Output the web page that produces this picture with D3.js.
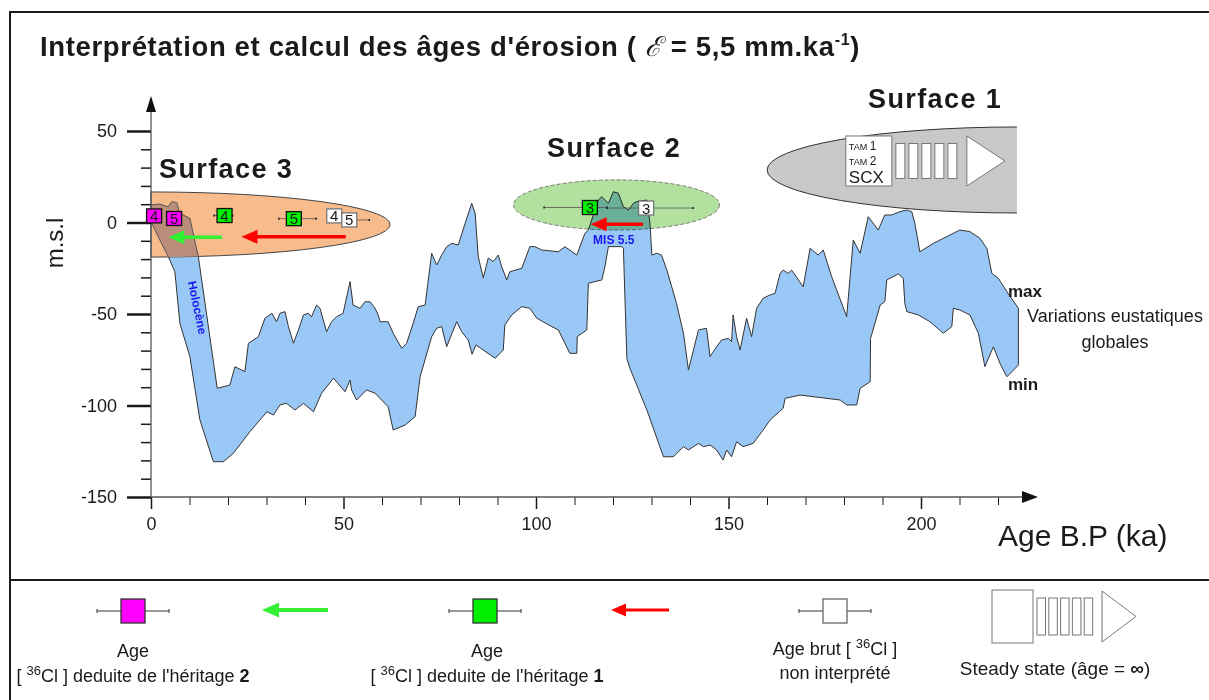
<!DOCTYPE html>
<html><head><meta charset="utf-8">
<script src="https://cdn.jsdelivr.net/npm/d3@7"></script>
<style>
body{margin:0;background:#fff;}
svg{display:block;}
text{font-family:"Liberation Sans",Arial,sans-serif;fill:#1a1a1a;}
</style></head><body>
<svg id="c" width="1209" height="700"></svg>
<script>
// ---------- data ----------
const maxCurve = [[0,9.6],[2.3,10.1],[4.4,8.6],[5.4,11.4],[6.7,10.8],[7.5,5.0],[10.1,2.3],[12.3,-18.7],[17.2,-90.6],[20.5,-88.8],[21.8,-78.8],[24.4,-81.5],[25.3,-66.0],[27.9,-62.4],[29.6,-52.3],[31.4,-49.6],[32.6,-54.2],[33.5,-49.6],[34.8,-48.7],[35.7,-56.9],[37.0,-66.0],[38.3,-58.7],[39.6,-50.5],[40.9,-49.6],[41.7,-51.5],[43.0,-45.1],[43.9,-46.9],[45.6,-59.7],[46.9,-54.2],[48.2,-51.5],[49.9,-49.6],[51.7,-32.3],[52.5,-45.1],[54.3,-46.9],[55.6,-43.3],[56.9,-43.3],[58.2,-46.9],[59.0,-50.5],[59.5,-54.2],[61.6,-54.2],[62.9,-60.5],[65.1,-68.7],[66.4,-66.0],[68.1,-55.1],[69.4,-46.0],[71.2,-45.1],[72.9,-16.8],[74.2,-23.2],[75.5,-17.8],[76.8,-13.2],[78.1,-11.4],[79.8,-12.3],[81.6,-0.4],[83.3,10.5],[84.2,5.0],[85.0,-18.7],[86.3,-30.3],[87.6,-19.4],[88.9,-21.4],[90.2,-17.8],[91.1,-24.2],[92.4,-31.4],[93.2,-26.9],[96.3,-25.0],[98.4,-13.2],[99.7,-13.2],[101.5,-15.0],[105.8,-16.0],[107.5,-13.2],[110.6,-17.8],[112.7,-5.9],[113.6,-4.1],[116.2,12.3],[117.1,14.1],[118.8,10.5],[120.1,16.8],[121.4,16.0],[122.7,8.6],[124.0,6.8],[125.3,10.5],[126.2,11.4],[128.8,12.3],[129.6,-0.4],[130.1,-17.8],[131.4,-16.8],[132.6,-17.8],[134.0,-26.0],[136.5,-44.2],[138.3,-60.5],[139.6,-80.6],[140.9,-69.7],[142.2,-58.7],[144.3,-57.8],[145.2,-73.3],[146.9,-67.9],[148.2,-64.2],[150.0,-63.3],[150.8,-65.1],[151.2,-50.5],[152.1,-62.4],[153.0,-69.7],[154.7,-52.3],[156.0,-62.4],[157.3,-46.9],[159.0,-41.4],[160.8,-39.6],[162.1,-38.7],[163.4,-27.8],[164.2,-26.0],[165.5,-27.8],[166.4,-26.0],[169.4,-35.1],[171.2,-14.1],[173.3,-17.8],[174.6,-15.0],[176.8,-29.6],[180.7,-51.5],[182.4,-9.6],[184.2,-16.8],[186.3,3.2],[188.9,-4.1],[190.6,4.1],[192.4,4.1],[194.5,5.9],[196.3,6.8],[197.6,5.9],[198.4,-0.4],[199.7,-16.0],[203.2,-11.4],[210.1,-4.1],[212.7,-5.0],[215.3,-8.6],[217.1,-14.1],[218.4,-27.8],[220.1,-30.5],[222.3,-37.8],[225.3,-46.9]];
const minCurve = [[0,0.4],[2.3,-9.6],[4.5,-18.7],[6.2,-26.9],[7.5,-55.1],[10.1,-73.3],[12.7,-107.9],[16.2,-130.7],[18.8,-130.7],[21.4,-126.1],[25.7,-114.3],[30.1,-103.4],[31.8,-105.2],[33.5,-99.7],[35.2,-98.8],[37.4,-102.5],[39.6,-98.8],[42.2,-103.4],[44.3,-93.3],[47.4,-85.1],[50.4,-92.5],[51.7,-86.1],[52.1,-91.5],[53.4,-97.0],[56.0,-91.5],[58.2,-93.3],[61.6,-100.7],[62.9,-113.4],[66.0,-110.7],[68.6,-106.1],[69.9,-84.3],[72.9,-62.4],[74.2,-57.8],[75.5,-56.9],[76.8,-67.9],[79.4,-54.2],[80.7,-59.7],[82.4,-64.2],[83.4,-72.0],[84.4,-66.9],[89.4,-74.2],[91.5,-69.7],[91.9,-56.0],[93.7,-50.5],[96.3,-46.0],[98.4,-46.9],[100.2,-52.3],[104.1,-56.9],[105.8,-58.7],[108.8,-71.5],[110.6,-71.5],[110.7,-62.4],[113.2,-58.7],[113.6,-33.2],[115.3,-32.3],[117.1,-31.4],[117.9,-24.2],[118.8,-13.2],[122.3,-13.2],[122.7,-14.1],[123.6,-74.2],[124.4,-79.7],[128.8,-102.5],[133.1,-128.0],[135.7,-128.0],[138.3,-122.5],[139.6,-124.3],[142.2,-120.7],[143.5,-122.5],[145.2,-121.6],[146.9,-124.3],[148.6,-129.8],[149.5,-124.3],[150.8,-128.0],[152.1,-119.8],[153.8,-122.5],[156.4,-120.7],[159.0,-113.4],[160.8,-107.9],[164.2,-101.5],[164.7,-96.1],[168.6,-94.3],[179.0,-97.0],[180.7,-99.7],[183.3,-99.7],[184.2,-90.6],[186.8,-87.0],[186.9,-63.3],[189.4,-45.1],[190.6,-43.3],[191.1,-31.4],[194.1,-28.1],[195.4,-30.5],[195.8,-44.2],[196.3,-48.7],[199.3,-50.5],[202.3,-54.2],[205.8,-60.5],[208.0,-56.9],[208.4,-46.9],[210.1,-47.8],[212.7,-50.5],[214.9,-60.5],[216.6,-78.8],[218.8,-67.9],[220.5,-76.9],[222.3,-84.3],[225.3,-77.9]];

const xTicks = [0,50,100,150,200];
const xMinor = [10,20,30,40,60,70,80,90,110,120,130,140,160,170,180,190,210,220];
const yTicks = [50,0,-50,-100,-150];
const yMinor = [40,30,20,10,-10,-20,-30,-40,-60,-70,-80,-90,-110,-120,-130,-140];

// age boxes: label, age (ka), level (m), kind, whisker low/high (ka)
const ageBoxLabels = ["4","5","4","5","4","5","3","3"];
const ageBoxAges   = [0.8, 6.0, 19.1, 37.1, 47.6, 51.5, 114.0, 128.6];
const ageBoxLevels = [3.6, 2.2, 3.8, 2.1, 3.6, 1.4, 8.2, 7.9];
const ageBoxKinds  = ["h2","h2","h1","h1","raw","raw","h1","raw"];
const ageBoxLo     = [null,null,16.4,33.2,null,null,102.1,118.4];
const ageBoxHi     = [null,null,21.2,42.9,null,56.7,118.4,140.8];

// heritage correction arrows: from age -> to age at level
const arrowFrom  = [18.4, 50.6, 127.8];
const arrowTo    = [4.5, 23.5, 114.2];
const arrowLevel = [-8.1, -7.8, -1.0];
const arrowKind  = ["h2","h1","h1"];

const surfaceNames = ["Surface 1","Surface 2","Surface 3"];

// ---------- setup ----------
const svg = d3.select('#c');
const x = d3.scaleLinear().domain([0,230]).range([151,1036.5]);
const y = d3.scaleLinear().domain([-150,50]).range([497,131]);
const colors = {h2:'#ff00ff', h1:'#00f000', raw:'#ffffff'};
const arrowColors = {h2:'#33f033', h1:'#ff0000'};
const pxPerKa = x(1)-x(0), pxPerM = y(0)-y(1);

// frame
svg.append('rect').attr('x',10).attr('y',12).attr('width',1220).attr('height',720)
  .attr('fill','#fff').attr('stroke','#1a1a1a').attr('stroke-width',2);
svg.append('line').attr('x1',10).attr('x2',1209).attr('y1',580).attr('y2',580)
  .attr('stroke','#1a1a1a').attr('stroke-width',2);

// title
const title = svg.append('text').attr('x',40).attr('y',56).attr('font-size',27.5).attr('font-weight','bold').attr('letter-spacing',0.65);
title.append('tspan').text("Interprétation et calcul des âges d'érosion ( ");
title.append('tspan').attr('font-family','DejaVu Serif').attr('font-style','italic').attr('font-weight','normal').text('ℰ');
title.append('tspan').text(' = 5,5 mm.ka');
title.append('tspan').attr('font-size',16).attr('dy',-11).text('-1');
title.append('tspan').attr('dy',11).text(')');

// surface 1 grey shape (half ellipse)
const s1cx = x(224.9), s1cy = y(28.7), s1rx = 64.9*pxPerKa, s1ry = 23.5*pxPerM;
svg.append('path')
  .attr('d',`M${s1cx},${s1cy-s1ry} A${s1rx},${s1ry} 0 0 0 ${s1cx},${s1cy+s1ry} Z`)
  .attr('fill','#c8c8c8').attr('stroke','none');
svg.append('path')
  .attr('d',`M${s1cx},${s1cy-s1ry} A${s1rx},${s1ry} 0 0 0 ${s1cx},${s1cy+s1ry}`)
  .attr('fill','none').attr('stroke','#333').attr('stroke-width',1);

// steady-state symbol helper
function steady(g, bx, by, bw, bh, rw, rh, rp, tw, th){
  g.append('rect').attr('x',bx).attr('y',by).attr('width',bw).attr('height',bh)
    .attr('fill','#fff').attr('stroke','#777').attr('stroke-width',1);
  const ry0 = by + (bh-rh)/2;
  for(let i=0;i<5;i++){
    g.append('rect').attr('x',bx+bw+4+i*rp).attr('y',ry0).attr('width',rw).attr('height',rh)
      .attr('fill','#fff').attr('stroke','#777').attr('stroke-width',1);
  }
  const tx = bx+bw+4+5*rp+6;
  g.append('path').attr('d',`M${tx},${by+bh/2-th/2} L${tx+tw},${by+bh/2} L${tx},${by+bh/2+th/2} Z`)
    .attr('fill','#fff').attr('stroke','#777').attr('stroke-width',1);
  return g;
}
const s1g = svg.append('g');
steady(s1g, s1cx-171, s1cy-34, 46, 50, 9, 35, 13, 38, 50);
const tam = s1g.append('text').attr('font-size',9);
tam.append('tspan').attr('x',s1cx-168).attr('y',s1cy-20).text('TAM ');
tam.append('tspan').attr('font-size',12).text('1');
tam.append('tspan').attr('x',s1cx-168).attr('y',s1cy-5).text('TAM ');
tam.append('tspan').attr('font-size',12).text('2');
tam.append('tspan').attr('x',s1cx-168).attr('y',s1cy+13).attr('font-size',17).text('SCX');

// band
const line = d3.line().x(d=>x(d[0])).y(d=>y(d[1]));
const bandD = line(maxCurve.concat(minCurve.slice().reverse())) + 'Z';
svg.append('path').attr('d',bandD).attr('fill','#99c8f7').attr('stroke','#333').attr('stroke-width',1);

// surface 3 orange half ellipse
const s3cx = x(0), s3cy = y(-1.1), s3rx = 62.1*pxPerKa, s3ry = 17.8*pxPerM;
const s3d = `M${s3cx},${s3cy-s3ry} A${s3rx},${s3ry} 0 0 1 ${s3cx},${s3cy+s3ry} Z`;
svg.append('defs').append('clipPath').attr('id','s3clip').append('path').attr('d',s3d);
svg.append('path').attr('d',s3d).attr('fill','#f8bb8c').attr('stroke','#444').attr('stroke-width',1);
svg.append('path').attr('d',bandD).attr('clip-path','url(#s3clip)')
  .attr('fill','#b98d79').attr('stroke','#555').attr('stroke-width',1);

// surface 2 green ellipse
svg.append('ellipse').attr('cx',x(120.9)).attr('cy',y(9.6)).attr('rx',26.75*pxPerKa).attr('ry',13.7*pxPerM)
  .attr('fill','#b2e09e').attr('stroke','#777').attr('stroke-dasharray','4,2').attr('stroke-width',1)
  .style('mix-blend-mode','multiply');

// axes
const fmt = d=>String(d);
const gyMinor = svg.append('g').attr('transform',`translate(${x(0)},0)`)
  .call(d3.axisLeft(y).tickValues(yMinor).tickSize(10).tickFormat(''));
const gy = svg.append('g').attr('transform',`translate(${x(0)},0)`)
  .call(d3.axisLeft(y).tickValues(yTicks).tickSize(24).tickPadding(10).tickFormat(fmt));
const gxMinor = svg.append('g').attr('transform',`translate(0,${y(-150)})`)
  .call(d3.axisBottom(x).tickValues(xMinor).tickSize(8).tickFormat(''));
const gx = svg.append('g').attr('transform',`translate(0,${y(-150)})`)
  .call(d3.axisBottom(x).tickValues(xTicks).tickSize(12).tickPadding(8).tickFormat(fmt));
[gyMinor,gy,gxMinor,gx].forEach(g=>{ g.select('.domain').remove(); g.selectAll('text').attr('font-size',18).attr('fill','#1a1a1a').attr('font-family','"Liberation Sans",sans-serif'); });
gy.selectAll('line').attr('stroke','#1a1a1a').attr('stroke-width',2.5);
gyMinor.selectAll('line').attr('stroke','#1a1a1a').attr('stroke-width',1.5);
gx.selectAll('line').attr('stroke','#1a1a1a').attr('stroke-width',1.5);
gxMinor.selectAll('line').attr('stroke','#1a1a1a').attr('stroke-width',1);
// axis lines with arrows
svg.append('line').attr('x1',x(0)).attr('x2',x(0)).attr('y1',y(-150)).attr('y2',110).attr('stroke','#555').attr('stroke-width',1.3);
svg.append('path').attr('d',`M${x(0)-5},${112} L${x(0)},${96} L${x(0)+5},${112} Z`).attr('fill','#111');
svg.append('line').attr('x1',x(0)).attr('x2',1024).attr('y1',y(-150)).attr('y2',y(-150)).attr('stroke','#555').attr('stroke-width',1.3);
svg.append('path').attr('d',`M1022,${y(-150)-6} L1038,${y(-150)} L1022,${y(-150)+6} Z`).attr('fill','#111');

svg.append('text').attr('transform','translate(63,243) rotate(-90)').attr('text-anchor','middle')
  .attr('font-size',24).text('m.s.l');
svg.append('text').attr('x',998).attr('y',546).attr('font-size',30).text('Age B.P (ka)');

// annotations inside plot
svg.append('text').attr('transform',`translate(${x(11.0)},${y(-47)}) rotate(78)`).attr('text-anchor','middle')
  .attr('font-size',12).attr('font-weight','bold').style('fill','#1a1aee').text('Holocène');
svg.append('text').attr('x',x(120.2)).attr('y',y(-11.5)).attr('text-anchor','middle')
  .attr('font-size',12).attr('font-weight','bold').style('fill','#1a1aee').text('MIS 5.5');

// surface labels
const surfPos = [[868,108],[547,157],[159,178]];
surfaceNames.forEach((s,i)=>{
  svg.append('text').attr('x',surfPos[i][0]).attr('y',surfPos[i][1]).attr('font-size',27)
    .attr('font-weight','bold').attr('letter-spacing',1.4).text(s);
});

// arrows
function arrow(g, x1, x2, yy, col, w, hl, hh){
  g.append('line').attr('x1',x1).attr('x2',x2+hl-1).attr('y1',yy).attr('y2',yy).attr('stroke',col).attr('stroke-width',w);
  g.append('path').attr('d',`M${x2},${yy} L${x2+hl},${yy-hh} L${x2+hl},${yy+hh} Z`).attr('fill',col);
}
const ag = svg.append('g');
arrowFrom.forEach((a,i)=> arrow(ag, x(a), x(arrowTo[i]), y(arrowLevel[i]), arrowColors[arrowKind[i]], 3.5, 16, 7));

// whiskers + boxes
const bg = svg.append('g');
ageBoxAges.forEach((a,i)=>{
  const cy = y(ageBoxLevels[i]);
  const lo = ageBoxLo[i], hi = ageBoxHi[i];
  if(lo!==null){
    bg.append('line').attr('x1',x(lo)).attr('x2',x(a)).attr('y1',cy).attr('y2',cy).attr('stroke','#555').attr('stroke-width',0.8);
    bg.append('rect').attr('x',x(lo)-0.8).attr('y',cy-1).attr('width',1.6).attr('height',2).attr('fill','#222');
  }
  if(hi!==null){
    bg.append('line').attr('x1',x(a)).attr('x2',x(hi)).attr('y1',cy).attr('y2',cy).attr('stroke','#555').attr('stroke-width',0.8);
    bg.append('rect').attr('x',x(hi)-0.8).attr('y',cy-1).attr('width',1.6).attr('height',2).attr('fill','#222');
  }
});
ageBoxAges.forEach((a,i)=>{
  const cx = x(a), cy = y(ageBoxLevels[i]);
  const k = ageBoxKinds[i];
  bg.append('rect').attr('x',cx-7.5).attr('y',cy-7).attr('width',15).attr('height',14)
    .attr('fill',colors[k]).attr('stroke', k==='raw' ? '#777' : '#111').attr('stroke-width',1.3);
  bg.append('text').attr('x',cx).attr('y',cy+5.5).attr('text-anchor','middle').attr('font-size',15)
    .text(ageBoxLabels[i]);
});

// right side labels
svg.append('text').attr('x',1008).attr('y',297).attr('font-size',17).attr('font-weight','bold').text('max');
svg.append('text').attr('x',1008).attr('y',390).attr('font-size',17).attr('font-weight','bold').text('min');
svg.append('text').attr('x',1115).attr('y',322).attr('text-anchor','middle').attr('font-size',18).text('Variations eustatiques');
svg.append('text').attr('x',1115).attr('y',348).attr('text-anchor','middle').attr('font-size',18).text('globales');

// ---------- legend ----------
const lg = svg.append('g');
function legBox(cx, col, stroke){
  lg.append('line').attr('x1',cx-36).attr('x2',cx+36).attr('y1',611).attr('y2',611).attr('stroke','#333').attr('stroke-width',1);
  lg.append('line').attr('x1',cx-36).attr('x2',cx-36).attr('y1',609).attr('y2',613).attr('stroke','#333');
  lg.append('line').attr('x1',cx+36).attr('x2',cx+36).attr('y1',609).attr('y2',613).attr('stroke','#333');
  lg.append('rect').attr('x',cx-12).attr('y',599).attr('width',24).attr('height',24).attr('fill',col).attr('stroke',stroke).attr('stroke-width',1.3);
}
legBox(133,'#ff00ff','#333');
legBox(485,'#00f000','#333');
legBox(835,'#ffffff','#666');
arrow(lg, 328, 262, 610, '#33f033', 4, 17, 7.5);
arrow(lg, 669, 611, 610, '#ff0000', 3, 15, 6.5);

function legText(cx, yy, parts, fs){
  const t = lg.append('text').attr('x',cx).attr('y',yy).attr('text-anchor','middle').attr('font-size',fs||18);
  parts.forEach(p=>{
    const s = t.append('tspan').text(p.t);
    if(p.sup) s.attr('dy',-7).attr('font-size',13);
    if(p.down) s.attr('dy',7);
    if(p.b) s.attr('font-weight','bold');
  });
}
legText(133,657,[{t:'Age'}]);
legText(133,682,[{t:'[ '},{t:'36',sup:1},{t:'Cl ] deduite de l\'héritage  ',down:1},{t:'2',b:1}]);
legText(487,657,[{t:'Age'}]);
legText(487,682,[{t:'[ '},{t:'36',sup:1},{t:'Cl ] deduite de l\'héritage ',down:1},{t:'1',b:1}]);
legText(835,655,[{t:'Age brut [ '},{t:'36',sup:1},{t:'Cl ]',down:1}]);
legText(835,679,[{t:'non interprété'}]);
steady(lg, 992, 590, 41, 53, 8.5, 37, 11.8, 34, 51);
legText(1055,675,[{t:'Steady state (âge = '},{t:'∞',b:1},{t:')'}], 19);
</script>
</body></html>
